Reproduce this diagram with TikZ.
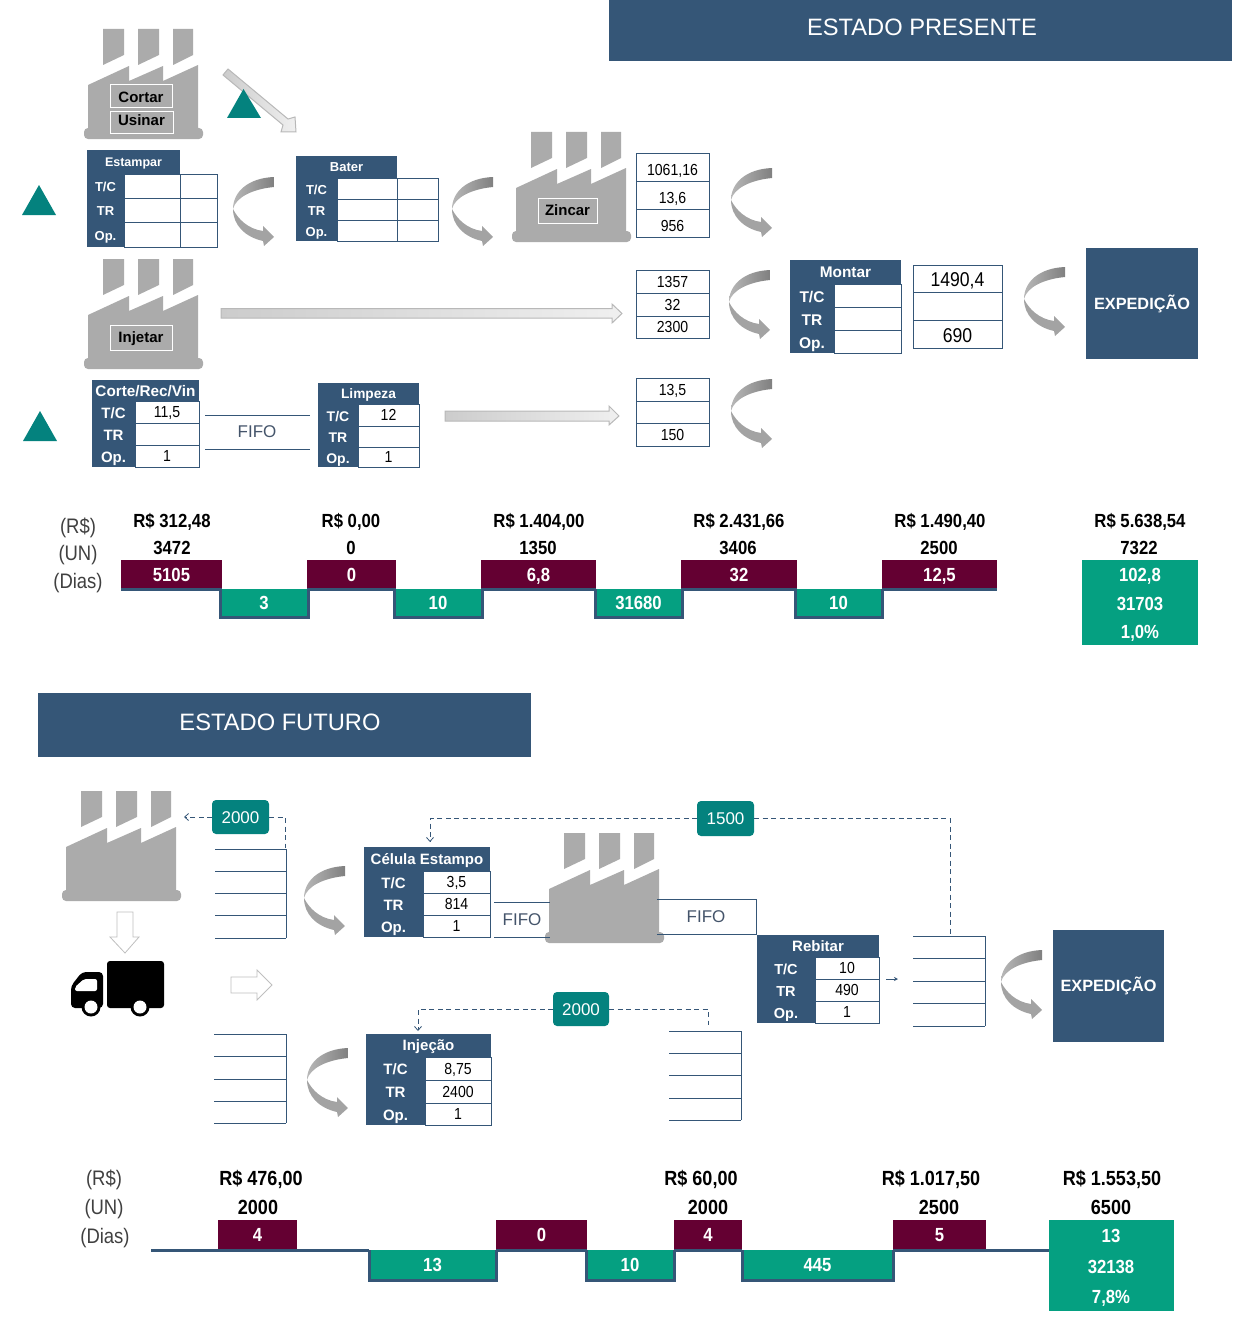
\documentclass[tikz,border=0pt]{standalone}
\usepackage{fontspec}
\usetikzlibrary{arrows.meta}
\setmainfont{Liberation Sans}
\newfontfamily\nrw[FakeStretch=0.88]{Liberation Sans}
\definecolor{navy}{HTML}{355677}
\definecolor{wine}{HTML}{640032}
\definecolor{tgreen}{HTML}{05A081}
\definecolor{tealk}{HTML}{04827E}
\definecolor{fgray}{HTML}{ABABAB}
\definecolor{lblgray}{HTML}{404040}
\definecolor{fifoc}{HTML}{44546A}
\newcommand\fsz[1]{\fontsize{#1}{#1}\selectfont}
\tikzset{
  cellbox/.style={draw=navy,line width=.9pt,fill=white,text=black,font=\fsz{16}\nrw,text height=11.5pt,text depth=0pt},
  bigtitle/.style={text=white,font=\fsz{23.7},inner sep=0pt,text height=17pt,text depth=0pt},
  expbox/.style={fill=navy,text=white,font=\fsz{16.3}\bfseries},
  winebox/.style={fill=wine,text=white,font=\fsz{19}\nrw\bfseries,text height=13.5pt,text depth=0pt},
  greenbox/.style={fill=tgreen,text=white,font=\fsz{19}\nrw\bfseries,text height=13.5pt,text depth=0pt},
  tval/.style={text=black,font=\fsz{19}\nrw\bfseries,inner sep=0pt,text height=13.5pt,text depth=0pt},
  tvalb/.style={text=black,font=\fsz{20.5}\nrw\bfseries,inner sep=0pt,text height=14.5pt,text depth=0pt},
  greenv/.style={text=white,font=\fsz{19}\nrw\bfseries,inner sep=0pt,text height=13.5pt,text depth=0pt},
  tunit/.style={text=lblgray,font=\fsz{21}\nrw,inner sep=0pt,text height=15pt,text depth=0pt},
  flabel/.style={draw=white,line width=.8pt,text=black,font=\fsz{15}\bfseries,text height=10.8pt,text depth=0pt},
  kanban/.style={fill=tealk,text=white,rounded corners=4pt,font=\fsz{17},text height=12pt,text depth=0pt},
  fifolbl/.style={text=fifoc,font=\fsz{17},inner sep=0pt,text height=12pt,text depth=0pt},
  hollow/.style={draw=black!25,fill=white,line width=.8pt},
  gradarrow/.style={draw=black!28,left color=black!20,right color=black!6,line width=1pt},
  dashline/.style={navy,line width=.8pt,dash pattern=on 5pt off 3.5pt},
  tri/.style={fill=tealk},
  flowline/.style={navy,line width=.9pt},
  tlline/.style={navy,line width=3pt}
}
\newcount\lblc
\newcommand\lbl[4]{\global\advance\lblc by 1 \node[#1] (lbl\the\lblc) at (#2,#3) {#4};}
\newcommand\boxn[7]{%
  \pgfmathsetmacro\bw{#4-#2}\pgfmathsetmacro\bh{#5-#3}%
  \node[#6,minimum width=\bw pt,minimum height=\bh pt,inner sep=0pt,outer sep=0pt] (#1) at ({(#2+#4)/2},{(#3+#5)/2}) {#7};}
% factory: 119 x 110 local units
\newcommand\factory[3]{%
  \begin{scope}[shift={(#2,#3)}]
    \fill[fgray] (19,0)--(40,0)--(40,26)--(19,36)--cycle;
    \fill[fgray] (54,0)--(75,0)--(75,26)--(54,36)--cycle;
    \fill[fgray] (89,0)--(109,0)--(109,26)--(89,36)--cycle;
    \fill[fgray] (4,56)--(45,37)--(45,52)--(79,37)--(79,52)--(114,36)--(114,102)--(4,102)--cycle;
    \fill[fgray,rounded corners=4pt] (0,99) rectangle (119,110);
    \coordinate (#1) at (59.5,55);
  \end{scope}}
% curved arrow
\newcommand\curvar[4]{%
  \begin{scope}[shift={(#1,#2)},xscale=#3,yscale=#4]
    \shade[left color=black!28,right color=black!50]
      (41,0) .. controls (15,1) and (0,15) .. (0,32)
      .. controls (3,20) and (20,12) .. (41,10) -- cycle;
    \fill[black!36]
      (0,32) .. controls (5,42) and (15,52) .. (30,54)
      -- (30,49) -- (41,60) -- (31,69) -- (30,64)
      .. controls (12,60) and (0,48) .. (0,32) -- cycle;
  \end{scope}}
% process table: first \tblfs{title size}{row label size}, then \tblgeom
\newcommand\tblfs[2]{\def\tfs{#1}\def\rfs{#2}\pgfmathsetmacro\tfh{.72*#1}\pgfmathsetmacro\rfh{.72*#2}}
\newcommand\tblgeom[7]{\def\xa{#1}\def\xb{#2}\def\xc{#3}\def\ya{#4}\def\yb{#5}\def\yc{#6}\def\yd{#7}}
\newcommand\ptable[6]{% name, ye, title, v1,v2,v3
  \pgfmathsetmacro\tcx{(\xa+\xb)/2}\pgfmathsetmacro\ty{(\yb+\yc)/2+1}\pgfmathsetmacro\tyb{(\yc+\yd)/2+1}\pgfmathsetmacro\tyc{(\yd+#2)/2+1}%
  \boxn{#1side}{\xa}{\yb}{\xb}{#2}{fill=navy}{}%
  \boxn{#1head}{\xa}{\ya}{\xc}{\yb}{fill=navy,text=white,font=\fsz{\tfs}\bfseries,text height=\tfh pt,text depth=0pt}{#3}%
  \boxn{#1va}{\xb}{\yb}{\xc}{\yc}{cellbox}{#4}%
  \boxn{#1vb}{\xb}{\yc}{\xc}{\yd}{cellbox}{#5}%
  \boxn{#1vc}{\xb}{\yd}{\xc}{#2}{cellbox}{#6}%
  \node[text=white,font=\fsz{\rfs}\bfseries,inner sep=0pt,text height=\rfh pt,text depth=0pt] (#1la) at (\tcx,\ty) {T/C};
  \node[text=white,font=\fsz{\rfs}\bfseries,inner sep=0pt,text height=\rfh pt,text depth=0pt] (#1lb) at (\tcx,\tyb) {TR};
  \node[text=white,font=\fsz{\rfs}\bfseries,inner sep=0pt,text height=\rfh pt,text depth=0pt] (#1lc) at (\tcx,\tyc) {Op.};}
% stack of kanban lines, open on the left
\newcommand\kstack[7]{%
  \foreach \yy in {#4,#5,#6,#7,#3}{\draw[flowline] (#1,\yy) -- (#2,\yy);}
  \draw[flowline] (#2,#4) -- (#2,#3);}
% green timeline box
\newcommand\tlg[6]{% name x0 x1 y0 y1 text
  \boxn{#1}{#2}{#4}{#3}{#5}{greenbox}{#6}%
  \draw[tlline] (#1.north west) -- (#1.south west) -- (#1.south east) -- (#1.north east);}
\newcommand\tlw[6]{% name x0 x1 y0 y1 text
  \boxn{#1}{#2}{#4}{#3}{#5}{winebox}{#6}%
  \draw[tlline] (#1.south west) -- (#1.south east);}
\begin{document}
\begin{tikzpicture}[x=1pt,y=-1pt]
\useasboundingbox (0,0) rectangle (1232,1327);

%% ---------- ESTADO PRESENTE
\boxn{bannerA}{609}{0}{1232}{61}{fill=navy}{}
\lbl{bigtitle}{922}{27}{ESTADO PRESENTE}

\factory{facA}{84}{29}
\factory{facB}{512}{132}
\factory{facC}{84}{259}

\boxn{cortar}{110}{84}{172}{107}{flabel,text height=14pt}{Cortar}
\boxn{usinar}{110}{111}{173}{133}{flabel,text height=8pt}{Usinar}
\boxn{zincar}{538}{198}{597}{223}{flabel}{Zincar}
\boxn{injetar}{110}{325}{172}{350}{flabel}{Injetar}

% diagonal arrow and inventory triangles
\shade[gradarrow] (228,69)--(288,119)--(295,117)--(296,132)--(281,132)--(283,125)--(223,75)--cycle;
\fill[tri] (227,118)--(261,118)--(243.5,89)--cycle;
\fill[tri] (22,215)--(56,215)--(39,185)--cycle;
\fill[tri] (23,441)--(57,441)--(40,411)--cycle;

% process tables
\draw[flowline] (180,174) rectangle (217,198) (180,198) rectangle (217,222) (180,222) rectangle (217,247);
\tblfs{12.5}{13}\tblgeom{87}{124}{180}{150}{174}{198}{222}
\ptable{est}{247}{Estampar}{}{}{}
\draw[flowline] (397,178) rectangle (438,199) (397,199) rectangle (438,220) (397,220) rectangle (438,241);
\tblfs{13}{13}\tblgeom{296}{337}{397}{156}{178}{199}{220}
\ptable{bat}{241}{Bater}{}{}{}
\tblfs{15.3}{15}\tblgeom{92}{135}{199}{380}{401}{423}{445}
\ptable{cor}{467}{Corte/Rec/Vin}{11,5}{}{1}
\tblfs{13.7}{14}\tblgeom{318}{358}{419}{383}{404}{426}{447}
\ptable{lim}{467}{Limpeza}{12}{}{1}
\tblfs{15.4}{15.5}\tblgeom{790}{834}{901}{260}{284}{307}{330}
\ptable{mon}{353}{Montar}{}{}{}

% value stacks
\boxn{za}{636}{153}{709}{181}{cellbox,text height=17pt}{1061,16}
\boxn{zb}{636}{181}{709}{209}{cellbox,text height=17pt}{13,6}
\boxn{zc}{636}{209}{709}{237}{cellbox,text height=17pt}{956}
\boxn{ia}{636}{270}{709}{293}{cellbox}{1357}
\boxn{ib}{636}{293}{709}{316}{cellbox}{32}
\boxn{ic}{636}{316}{709}{338}{cellbox}{2300}
\boxn{la}{636}{378}{709}{401}{cellbox}{13,5}
\boxn{lb}{636}{401}{709}{423}{cellbox}{}
\boxn{lc}{636}{423}{709}{446}{cellbox}{150}
\boxn{ma}{913}{265}{1002}{292}{cellbox,font=\fsz{20}\nrw,text height=15pt}{1490,4}
\boxn{mb}{913}{292}{1002}{320}{cellbox}{}
\boxn{mc}{913}{320}{1002}{348}{cellbox,font=\fsz{20}\nrw,text height=17pt}{690}

\boxn{expA}{1086}{248}{1198}{359}{expbox}{EXPEDIÇÃO}

% push arrows
\shade[gradarrow] (221,308.5)--(612,308.5)--(612,304)--(622,313.5)--(612,323)--(612,318)--(221,318)--cycle;
\shade[gradarrow] (445,411)--(609,411)--(609,406)--(619,416)--(609,425)--(609,421)--(445,421)--cycle;

% FIFO presente
\coordinate (fa1) at (205,415); \coordinate (fa2) at (310,415);
\coordinate (fa3) at (205,449); \coordinate (fa4) at (310,449);
\draw[flowline] (fa1) -- (fa2);
\draw[flowline] (fa3) -- (fa4);
\lbl{fifolbl}{257}{431}{FIFO}

% curved arrows
\curvar{233}{177}{1}{1}
\curvar{452}{177}{1}{1}
\curvar{731}{168}{1}{1}
\curvar{729}{270}{1}{1}
\curvar{731}{379}{1}{1}
\curvar{1024}{267}{1}{1}

%% timeline presente
\lbl{tunit}{78}{526}{(R\$)}
\lbl{tunit}{78}{553}{(UN)}
\lbl{tunit}{78}{581}{(Dias)}
\lbl{tval}{172}{521}{R\$ 312,48}\lbl{tval}{172}{548}{3472}
\lbl{tval}{351}{521}{R\$ 0,00}\lbl{tval}{351}{548}{0}
\lbl{tval}{539}{521}{R\$ 1.404,00}\lbl{tval}{538}{548}{1350}
\lbl{tval}{739}{521}{R\$ 2.431,66}\lbl{tval}{738}{548}{3406}
\lbl{tval}{940}{521}{R\$ 1.490,40}\lbl{tval}{939}{548}{2500}
\lbl{tval}{1140}{521}{R\$ 5.638,54}\lbl{tval}{1139}{548}{7322}
\tlg{ga}{220}{308}{589}{617}{3}
\tlg{gb}{394}{482}{589}{617}{10}
\tlg{gc}{595}{682}{589}{617}{31680}
\tlg{gd}{795}{882}{589}{617}{10}
\tlw{wa}{121}{222}{560}{589}{5105}
\tlw{wb}{307}{396}{560}{589}{0}
\tlw{wc}{481}{596}{560}{589}{6,8}
\tlw{wd}{681}{797}{560}{589}{32}
\tlw{we}{882}{997}{560}{589}{12,5}
\boxn{gtotA}{1082}{560}{1198}{645}{fill=tgreen}{}
\lbl{greenv}{1140}{575}{102,8}
\lbl{greenv}{1140}{604}{31703}
\lbl{greenv}{1140}{632}{1,0\%}

%% ---------- ESTADO FUTURO
\boxn{bannerB}{38}{693}{531}{757}{fill=navy}{}
\lbl{bigtitle}{280}{722}{ESTADO FUTURO}
\factory{facD}{62}{791}
\factory{facE}{545}{833}

% hollow arrows
\draw[hollow] (117,912)--(133,912)--(133,937)--(139,937)--(125,953)--(110,937)--(117,937)--cycle;
\draw[hollow] (231,977)--(257,977)--(257,970)--(272,985)--(257,1000)--(257,993)--(231,993)--cycle;

% truck
\fill[black,rounded corners=3pt] (107,961) rectangle (164,1008);
\fill[black,rounded corners=4pt] (71,1008)--(71,986)--(82,972)--(103,972)--(103,1008)--cycle;
\fill[white,rounded corners=2pt] (75,991)--(75,987)--(84,979)--(97,979)--(97,991)--cycle;
\fill[black] (91,1007) circle (9.5);
\fill[white] (91,1007) circle (6.5);
\fill[black] (140,1007) circle (9.5);
\fill[white] (140,1007) circle (6.5);

% kanban stacks
\kstack{215}{286}{938}{849}{871}{893}{915}
\kstack{214}{286}{1123}{1034}{1056}{1079}{1101}
\kstack{669}{741}{1120}{1031}{1053}{1075}{1098}
\kstack{913}{985}{1026}{936}{958}{981}{1003}

% tables
\tblfs{15}{15}\tblgeom{364}{423}{490}{847}{871}{893}{915}
\ptable{cel}{937}{Célula Estampo}{3,5}{814}{1}
\tblgeom{366}{425}{491}{1034}{1057}{1080}{1103}
\ptable{inj}{1125}{Injeção}{8,75}{2400}{1}
\tblfs{15}{14.5}\tblgeom{757}{815}{879}{935}{957}{979}{1001}
\ptable{reb}{1023}{Rebitar}{10}{490}{1}

\boxn{expB}{1053}{930}{1164}{1042}{expbox}{EXPEDIÇÃO}

% kanbans
\boxn{kA}{212}{800}{269}{834}{kanban}{2000}
\boxn{kB}{697}{801}{754}{836}{kanban}{1500}
\boxn{kC}{553}{992}{609}{1026}{kanban}{2000}

% dashed signal lines
\coordinate (sA) at (184,817);
\coordinate (sB) at (285,848);
\coordinate (sC) at (430,842);
\coordinate (sD) at (950,935);
\coordinate (sE) at (418,1031);
\coordinate (sF) at (708,1025);
\draw[dashline,-{Straight Barb[length=4pt,width=7pt]}] (kA.west) -- (sA);
\draw[dashline] (kA.east) -| (sB);
\draw[dashline,-{Straight Barb[length=4pt,width=7pt]}] (kB.west) -| (sC);
\draw[dashline] (kB.east) -| (sD);
\draw[dashline,-{Straight Barb[length=4pt,width=7pt]}] (kC.west) -| (sE);
\draw[dashline] (kC.east) -| (sF);

% FIFO futuro
\coordinate (fb1) at (494,902); \coordinate (fb2) at (550,902);
\coordinate (fb3) at (494,937); \coordinate (fb4) at (550,937);
\draw[flowline] (fb1) -- (fb2);
\draw[flowline] (fb3) -- (fb4);
\lbl{fifolbl}{522}{919}{FIFO}
\coordinate (fb5) at (657,899); \coordinate (fb6) at (756,899);
\coordinate (fb7) at (756,934); \coordinate (fb8) at (657,934);
\draw[flowline] (fb5) -- (fb6) -- (fb7) -- (fb8);
\lbl{fifolbl}{706}{916}{FIFO}

% small arrow
\coordinate (rA) at (886,979); \coordinate (rB) at (898,979);
\draw[flowline,line width=.7pt,-{Stealth[length=4pt,width=4pt]}] (rA) -- (rB);

% curved arrows
\curvar{304}{866}{1}{1}
\curvar{307}{1048}{1}{1}
\curvar{1001}{950}{1}{1}

%% timeline futuro
\lbl{tunit}{104}{1178}{(R\$)}
\lbl{tunit}{104}{1207}{(UN)}
\lbl{tunit}{105}{1236}{(Dias)}
\lbl{tvalb}{261}{1178}{R\$ 476,00}\lbl{tvalb}{258}{1207}{2000}
\lbl{tvalb}{701}{1178}{R\$ 60,00}\lbl{tvalb}{708}{1207}{2000}
\lbl{tvalb}{931}{1178}{R\$ 1.017,50}\lbl{tvalb}{939}{1207}{2500}
\lbl{tvalb}{1112}{1178}{R\$ 1.553,50}\lbl{tvalb}{1111}{1207}{6500}
\coordinate (tlA) at (151,1250);
\tlg{gf}{369}{496}{1250}{1280}{13}
\tlg{gg}{586}{674}{1250}{1280}{10}
\tlg{gh}{742}{893}{1250}{1280}{445}
\tlw{wf}{218}{297}{1220}{1250}{4}
\tlw{wg}{496}{587}{1220}{1250}{0}
\tlw{wh}{674}{742}{1220}{1250}{4}
\tlw{wi}{893}{986}{1220}{1250}{5}
\draw[tlline] (tlA) -- (wf.south west);
\draw[tlline] (wf.south east) -- (gf.north west);
\boxn{gtotB}{1049}{1220}{1174}{1311}{fill=tgreen}{}
\draw[tlline] (wi.south east) -- (1049,1250);
\lbl{greenv}{1111}{1236}{13}
\lbl{greenv}{1111}{1267}{32138}
\lbl{greenv}{1111}{1297}{7,8\%}
\end{tikzpicture}
\end{document}
